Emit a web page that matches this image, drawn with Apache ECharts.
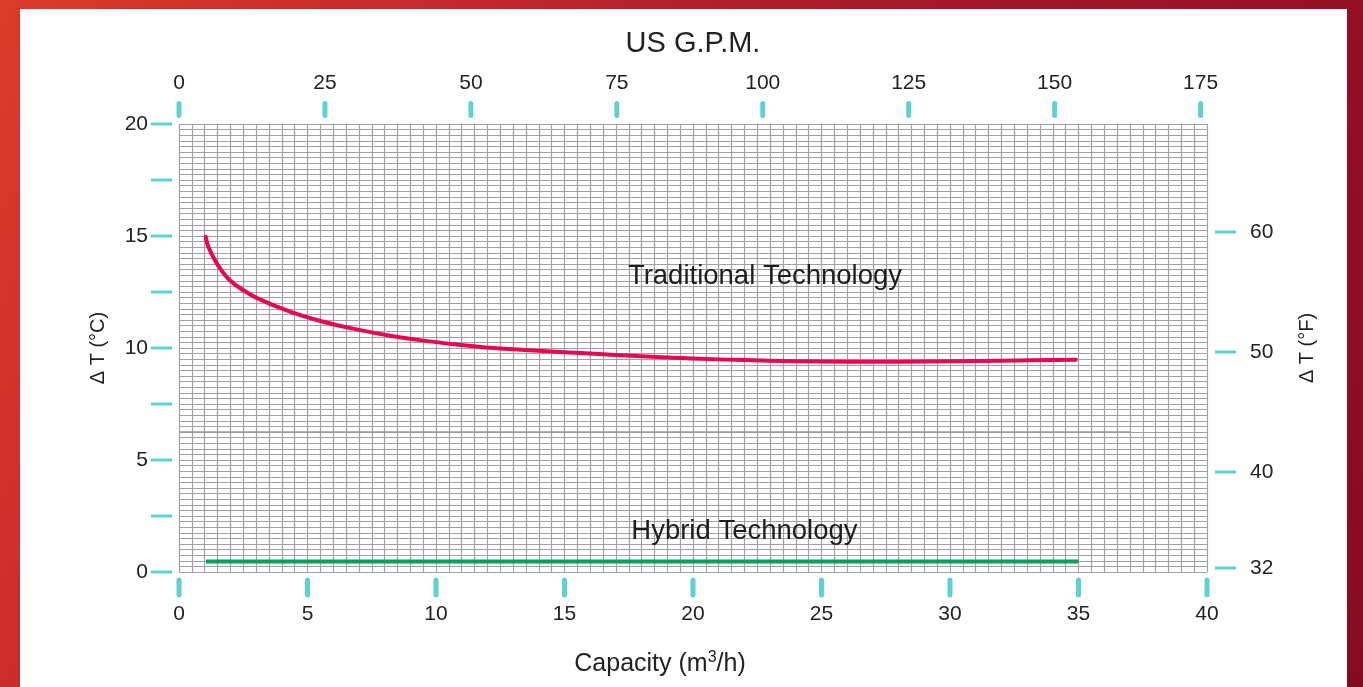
<!DOCTYPE html>
<html>
<head>
<meta charset="utf-8">
<script src="https://cdn.jsdelivr.net/npm/echarts@6/dist/echarts.min.js"></script>
<style>
  html, body { margin:0; padding:0; width:1363px; height:687px; overflow:hidden; }
  body { background: linear-gradient(115deg, #db3b2a 0%, #c52a2c 25%, #a51828 55%, #870a20 100%); position:relative; }
  #panel { position:absolute; left:20px; top:9px; width:1327px; height:690px; background:#fff; }
  #chart { position:absolute; left:0; top:0; width:1363px; height:687px; }
</style>
</head>
<body>
<div id="panel"></div>
<div id="chart"></div>
<script>
// Capacity (m3/h) vs Delta T (°C)
const traditionalX = [1.04, 1.1, 1.27, 1.5, 1.72, 2.0, 2.37, 3.02, 4.32, 5.61, 6.91, 8.21, 9.51, 10.8, 12.1, 14, 16, 18, 20, 22, 24, 26, 28, 30, 32, 34.9];
const traditionalY = [14.97, 14.65, 14.2, 13.72, 13.36, 13.0, 12.68, 12.24, 11.62, 11.17, 10.83, 10.55, 10.33, 10.16, 10.01, 9.88, 9.75, 9.63, 9.53, 9.46, 9.41, 9.39, 9.39, 9.41, 9.43, 9.48];
const hybridX = [1.05, 35];
const hybridY = [0.47, 0.47];
const bottomTicks = [0, 5, 10, 15, 20, 25, 30, 35, 40];
const topTicks = [0, 25, 50, 75, 100, 125, 150, 175];
const leftTicks = [0, 2.5, 5, 7.5, 10, 12.5, 15, 17.5, 20];
const leftLabels = [0, 5, 10, 15, 20];
const rightTicks = [32, 40, 50, 60];
const annotations = [
  { name: 'Traditional Technology', x: 22.8, y: 13.2 },
  { name: 'Hybrid Technology', x: 22.0, y: 1.8 }
];
const refLine = { y: 6.25, x0: 0, x1: 37 };

const FONT = "'Liberation Sans', Arial, sans-serif";
const CYAN = '#5ed3cd';
const GRID = '#a2a2a2';
const G = { left: 179, top: 124, width: 1028, height: 448 };

const chart = echarts.init(document.getElementById('chart'), null, { renderer: 'canvas' });
chart.setOption({
  backgroundColor: 'transparent',
  animation: false,
  textStyle: { fontFamily: FONT, color: '#222' },
  grid: { left: G.left, top: G.top, width: G.width, height: G.height, containLabel: false },
  xAxis: [
    {
      type: 'value', position: 'bottom', min: 0, max: 40, interval: 5, offset: 8,
      name: 'Capacity (m{sup|3}/h)', nameLocation: 'middle', nameGap: 70,
      nameTextStyle: { fontFamily: FONT, fontSize: 25, color: '#222', padding: [0, 66, 0, 0],
        rich: { sup: { fontFamily: FONT, fontSize: 16, color: '#222', padding: [0, 0, 13, 0] } } },
      axisLine: { show: false },
      axisTick: { show: false },
      axisLabel: { margin: 24, fontSize: 21, color: '#222', fontFamily: FONT, customValues: bottomTicks },
      splitLine: { show: true, lineStyle: { color: GRID, width: 1.2 } },
      minorTick: { show: false, splitNumber: 10 },
      minorSplitLine: { show: true, lineStyle: { color: GRID, width: 1.2 } }
    },
    {
      type: 'value', position: 'top', min: 0, max: 176.1, interval: 25, offset: 8.5,
      name: 'US G.P.M.', nameLocation: 'middle', nameGap: 57,
      nameTextStyle: { fontFamily: FONT, fontSize: 29, color: '#222' },
      axisLine: { show: false },
      axisTick: { show: false },
      axisLabel: { margin: 22, fontSize: 21, color: '#222', fontFamily: FONT, customValues: topTicks },
      splitLine: { show: false }
    }
  ],
  yAxis: [
    {
      type: 'value', position: 'left', min: 0, max: 20, interval: 2.5, offset: 7,
      name: 'Δ T (°C)', nameLocation: 'middle', nameGap: 64,
      nameTextStyle: { fontFamily: FONT, fontSize: 20, color: '#222' },
      axisLine: { show: false },
      axisTick: { show: false },
      axisLabel: { margin: 24, fontSize: 21, color: '#222', fontFamily: FONT, customValues: leftLabels },
      splitLine: { show: true, lineStyle: { color: GRID, width: 1.2 } },
      minorTick: { show: false, splitNumber: 10 },
      minorSplitLine: { show: true, lineStyle: { color: GRID, width: 1.2 } }
    },
    {
      type: 'value', position: 'right', min: 31.667, max: 69, offset: 8,
      name: 'Δ T (°F)', nameLocation: 'middle', nameGap: 82, nameRotate: 90,
      nameTextStyle: { fontFamily: FONT, fontSize: 20, color: '#222' },
      axisLine: { show: false },
      axisTick: { show: false },
      axisLabel: { margin: 35, fontSize: 21, color: '#222', fontFamily: FONT, customValues: rightTicks },
      splitLine: { show: false }
    }
  ],
  series: [
    {
      name: 'Traditional Technology', type: 'line', xAxisIndex: 0, yAxisIndex: 0,
      data: traditionalX.map((x, i) => [x, traditionalY[i]]),
      smooth: 0.3, showSymbol: false, symbol: 'none',
      lineStyle: { color: '#e8064f', width: 4, cap: 'round', join: 'round' }, z: 5
    },
    {
      name: 'Hybrid Technology', type: 'line', xAxisIndex: 0, yAxisIndex: 0,
      data: hybridX.map((x, i) => [x, hybridY[i]]),
      showSymbol: false, symbol: 'none',
      lineStyle: { color: '#0a9e58', width: 4 }, z: 5,
      markLine: {
        silent: true, symbol: 'none', label: { show: false },
        lineStyle: { color: '#999', width: 1.5, type: 'solid' },
        data: [[{ coord: [refLine.x0, refLine.y] }, { coord: [refLine.x1, refLine.y] }]]
      }
    },
    {
      type: 'scatter', xAxisIndex: 0, yAxisIndex: 0, symbolSize: 0, silent: true, z: 6,
      itemStyle: { opacity: 1 },
      data: annotations.map(a => ({ name: a.name, value: [a.x, a.y] })),
      label: { show: true, position: 'inside', formatter: p => p.name,
        fontFamily: FONT, fontSize: 27.5, color: '#1e1e1e' }
    }
  ]
});

// Tick dashes, placed through the axes' own scales
const gBottom = G.top + G.height, gRight = G.left + G.width;
const tickEls = [];
bottomTicks.forEach(v => {
  const x = chart.convertToPixel({ xAxisIndex: 0 }, v);
  tickEls.push({ type: 'line', silent: true, shape: { x1: x, y1: gBottom + 8, x2: x, y2: gBottom + 23 },
    style: { stroke: CYAN, lineWidth: 5, lineCap: 'round' } });
});
topTicks.forEach(v => {
  const x = chart.convertToPixel({ xAxisIndex: 1 }, v);
  tickEls.push({ type: 'line', silent: true, shape: { x1: x, y1: G.top - 8.5, x2: x, y2: G.top - 20.5 },
    style: { stroke: CYAN, lineWidth: 5, lineCap: 'round' } });
});
leftTicks.forEach(v => {
  const y = chart.convertToPixel({ yAxisIndex: 0 }, v);
  tickEls.push({ type: 'line', silent: true, shape: { x1: G.left - 28, y1: y, x2: G.left - 7, y2: y },
    style: { stroke: CYAN, lineWidth: 3 } });
});
rightTicks.forEach(v => {
  const y = chart.convertToPixel({ yAxisIndex: 1 }, v);
  tickEls.push({ type: 'line', silent: true, shape: { x1: gRight + 8, y1: y, x2: gRight + 29, y2: y },
    style: { stroke: CYAN, lineWidth: 3 } });
});
chart.setOption({ graphic: { elements: tickEls } });
</script>
</body>
</html>
